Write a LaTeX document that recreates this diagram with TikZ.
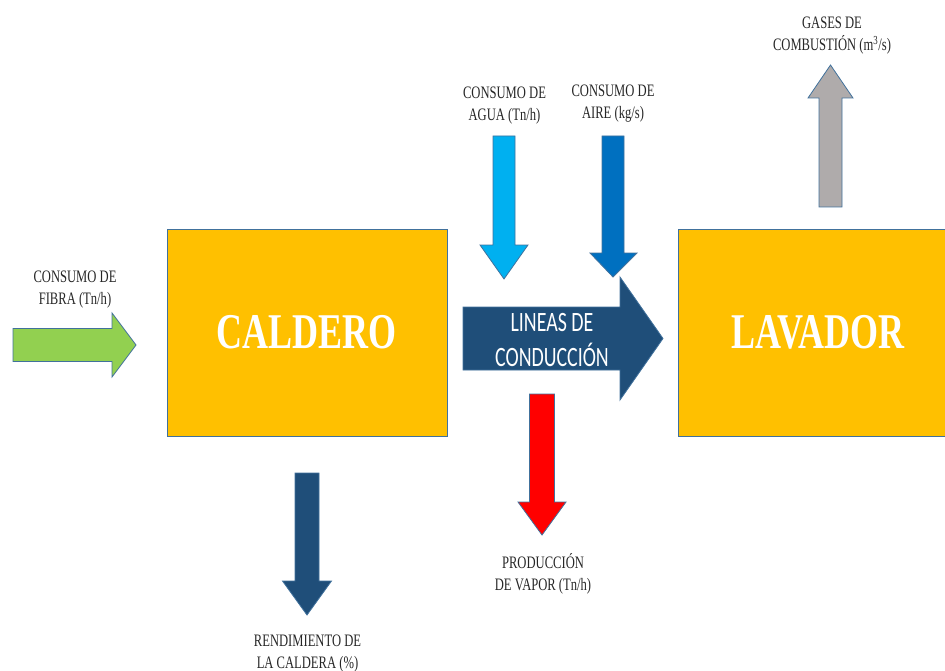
\documentclass[tikz,border=0pt]{standalone}
\usepackage{fontspec}
\newfontfamily\labelfont{Liberation Serif}[FakeStretch=0.72]
\newfontfamily\linefont{Carlito}[FakeStretch=0.71]
\usetikzlibrary{positioning}

\definecolor{boxfill}{HTML}{FFC000}
\definecolor{edgeblue}{HTML}{41719C}
\definecolor{fibragreen}{HTML}{92D050}
\definecolor{aguablue}{HTML}{00B0F0}
\definecolor{aireblue}{HTML}{0070C0}
\definecolor{navyblue}{HTML}{1F4E79}
\definecolor{gasgray}{HTML}{AFABAB}
\definecolor{labelgray}{HTML}{262626}

\tikzset{
  block/.style={draw=edgeblue, line width=0.8pt, fill=boxfill,
    minimum width=280pt, minimum height=207pt, text=white,
    font=\labelfont\bfseries\fontsize{50}{56}\selectfont},
  lbl/.style={align=center, text=labelgray, inner sep=0pt,
    font=\labelfont\fontsize{17.5}{22}\selectfont},
  fatarrow/.style={draw=edgeblue, line width=0.8pt, line join=miter},
}

\begin{document}
\begin{tikzpicture}[x=1pt, y=-1pt]
\useasboundingbox (0,0) rectangle (945,671);
%
\node[block] (caldero) at (307,332.5) {CALDERO};
\node[block] (lavador) at (818,332.5) {LAVADOR};
%
% entrada de fibra
\path[fatarrow, fill=fibragreen] (13,328.5) -- (112,328.5) -- (112,313) -- (136,345)
  -- (112,377) -- (112,361.5) -- (13,361.5) -- cycle;
\node[lbl] (fibra) at (75,290) {CONSUMO DE\\FIBRA (Tn/h)};
%
% agua y aire
\path[fatarrow, fill=aguablue] (493,136) -- (515,136) -- (515,245) -- (528,245)
  -- (504,279) -- (480,245) -- (493,245) -- cycle;
\node[lbl] (agua) at (504.5,106) {CONSUMO DE\\AGUA (Tn/h)};
\path[fatarrow, fill=aireblue] (602,136) -- (624,136) -- (624,253) -- (637,253)
  -- (613,277) -- (590,253) -- (602,253) -- cycle;
\node[lbl] (aire) at (613,104) {CONSUMO DE\\AIRE (kg/s)};
%
% lineas de conduccion
\path[fatarrow, fill=navyblue] (463,307) -- (620,307) -- (620,277) -- (663,338.5)
  -- (620,400) -- (620,370) -- (463,370) -- cycle;
\node[align=center, text=white, inner sep=0pt,
  font=\linefont\fontsize{28}{35}\selectfont] (lineas) at (552,340) {LINEAS DE\\CONDUCCIÓN};
%
% vapor
\path[fatarrow, fill=red] (529.5,394) -- (554.5,394) -- (554.5,502) -- (566,502)
  -- (542,535) -- (518,502) -- (529.5,502) -- cycle;
\node[lbl] (vapor) at (543,574) {PRODUCCIÓN\\DE VAPOR (Tn/h)};
%
% rendimiento
\path[fatarrow, fill=navyblue] (295,473) -- (319,473) -- (319,581) -- (331.5,581)
  -- (307,615) -- (282.5,581) -- (295,581) -- cycle;
\node[lbl] (rendimiento) at (307.5,654) {RENDIMIENTO DE\\LA CALDERA (\%)};
%
% gases
\path[fatarrow, fill=gasgray] (819,207) -- (842,207) -- (842,98) -- (853,98)
  -- (830.5,65) -- (808,98) -- (819,98) -- cycle;
\node[lbl] (gases) at (832,36) {GASES DE\\COMBUSTIÓN (m\textsuperscript{3}/s)};
\end{tikzpicture}
\end{document}
